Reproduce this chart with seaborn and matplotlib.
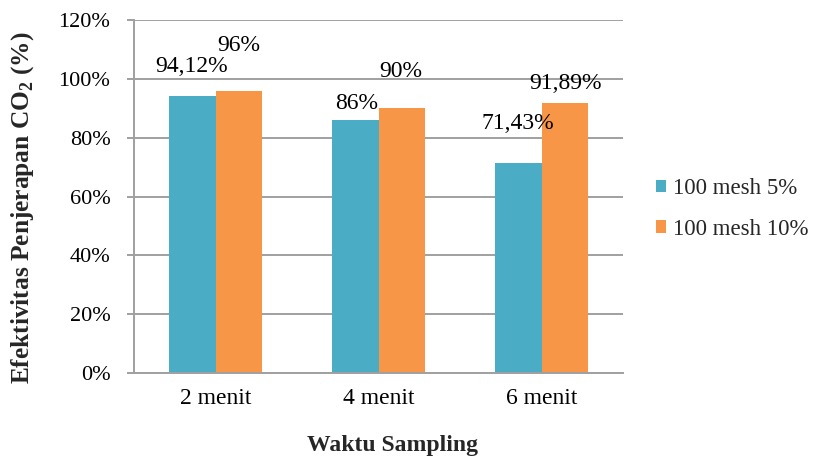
import matplotlib
matplotlib.use("Agg")
import matplotlib.pyplot as plt
import seaborn as sns
import pandas as pd

# Data
categories = ["2 menit", "4 menit", "6 menit"]
series_names = ["100 mesh 5%", "100 mesh 10%"]
mesh5 = [94.12, 86.0, 71.43]
mesh10 = [96.0, 90.0, 91.89]
y_ticks = [0, 20, 40, 60, 80, 100, 120]

# Label placement (pixel offsets from each bar's top centre)
label_offsets = [
    [(-1, 24), (1.5, 11), (0, 34)],
    [(0, 40), (-1, 31), (1, 14)],
]

colors = {"100 mesh 5%": "#4BACC6", "100 mesh 10%": "#F79646"}
grid_color = "#A0A0A0"

sns.set_style("white")
plt.rcParams["font.family"] = ["Liberation Serif", "DejaVu Serif"]
plt.rcParams["mathtext.fontset"] = "custom"
plt.rcParams["mathtext.rm"] = "Liberation Serif"
plt.rcParams["mathtext.bf"] = "Liberation Serif:bold"

df = pd.DataFrame({
    "Waktu": categories * 2,
    "Efektivitas": mesh5 + mesh10,
    "Seri": [series_names[0]] * 3 + [series_names[1]] * 3,
})

fig = plt.figure(figsize=(8.13, 4.59), dpi=100)
ax = fig.add_axes([134 / 813, 1 - 373 / 459, 489 / 813, 353 / 459])

sns.barplot(data=df, x="Waktu", y="Efektivitas", hue="Seri", order=categories,
            hue_order=series_names, palette=colors, saturation=1, width=0.57,
            gap=0, linewidth=0, errorbar=None, ax=ax)

ax.set_xlim(-0.5, 2.5)
ax.set_ylim(0, 120)
ax.set_yticks(y_ticks)
ax.set_yticklabels([f"{t}%" for t in y_ticks])
ax.set_xlabel("")
ax.set_ylabel("")

ax.set_axisbelow(True)
ax.yaxis.grid(True, color=grid_color, linewidth=1.4)
ax.xaxis.grid(False)
for side in ["top", "right"]:
    ax.spines[side].set_visible(False)
for side in ["left", "bottom"]:
    ax.spines[side].set_color(grid_color)
    ax.spines[side].set_linewidth(1.4)

ax.tick_params(axis="y", length=5, width=1.4, color=grid_color, pad=12,
               labelsize=16, labelcolor="black", left=True)
ax.tick_params(axis="x", length=0, pad=11, labelsize=17, labelcolor="black")


def fmt(v):
    s = f"{v:.2f}".rstrip("0").rstrip(".")
    return s.replace(".", ",") + "%"


for container, offs in zip(ax.containers, label_offsets):
    for bar, off in zip(container, offs):
        x = bar.get_x() + bar.get_width() / 2
        h = bar.get_height()
        ax.annotate(fmt(h), (x, h), xytext=off, textcoords="offset pixels",
                    ha="center", va="baseline", fontsize=17, color="black")

handles, labels = ax.get_legend_handles_labels()
ax.legend(handles, labels, loc="center left", bbox_to_anchor=(1.0245, 0.465),
          frameon=False, fontsize=16.5, handlelength=0.47, handleheight=0.47,
          handletextpad=0.3, labelspacing=0.85, borderpad=0.3, borderaxespad=0.6)

fig.text(23 / 813, 1 - 208 / 459, r"Efektivitas Penjerapan CO$_\mathbf{2}$ (%)",
         rotation=90, ha="center", va="center", fontsize=18.3, fontweight="bold")
fig.text(392 / 813, 1 - 445 / 459, "Waktu Sampling", ha="center", va="center",
         fontsize=17, fontweight="bold")

fig.savefig("out.png", dpi=100, facecolor="white")
